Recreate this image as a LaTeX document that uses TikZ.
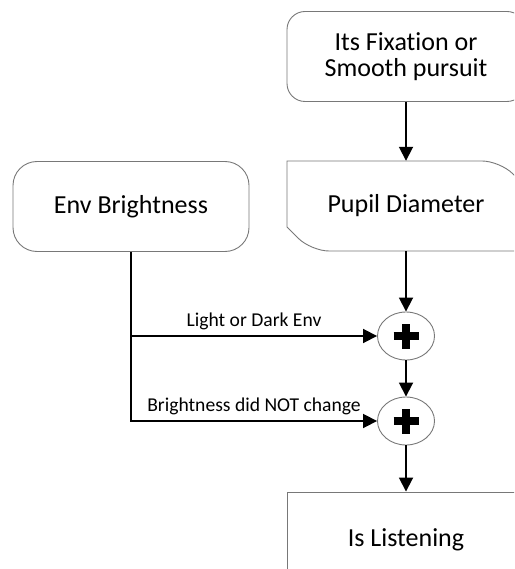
\documentclass[tikz,border=0pt]{standalone}
\usepackage{fontspec}
\setmainfont{Carlito}[Ligatures=NoCommon]
\usetikzlibrary{arrows.meta,shapes.geometric}
\definecolor{boxgray}{RGB}{120,120,120}
\begin{document}
\begin{tikzpicture}[x=1pt,y=-1pt,
  outline/.style={draw=boxgray, line width=0.9pt},
  bigtext/.style={font=\fontsize{26}{26.5}\selectfont, align=center, inner sep=0pt},
  box/.style={outline, bigtext, minimum width=238pt, minimum height=90pt},
  plusnode/.style={outline, ellipse, minimum width=57pt, minimum height=48pt, inner sep=0pt},
  conn/.style={line width=1.8pt, -{Triangle[length=14pt,width=14pt]}},
  lbl/.style={font=\fontsize{19.6}{22}\selectfont, anchor=base, yshift=10pt, inner sep=0pt},
  plusbar/.style={line width=8pt}]
\useasboundingbox (0,0) rectangle (514,569);
\clip (0,0) rectangle (514,569);
\node[box, rounded corners=18pt] (fix) at (406,56.5) {Its Fixation or\\Smooth pursuit};
\node[box, rounded corners=24pt, minimum width=236pt] (env) at (131,206.5) {Env Brightness};
\node[bigtext, minimum width=238pt, minimum height=90pt] (pupil) at (406,206) {Pupil Diameter};
\draw[outline] (287,227) -- (287,161) [rounded corners=18pt] -- (500,161) [sharp corners] -- (525,186) -- (525,251) [rounded corners=18pt] -- (311,251) [sharp corners] -- cycle;
\node[plusnode] (p1) at (406,336) {};
\node[plusnode] (p2) at (406,421) {};
\foreach \p in {p1,p2}{
  \draw[plusbar] ([xshift=-12.5pt]\p.center) -- ([xshift=12.5pt]\p.center);
  \draw[plusbar] ([yshift=-12.5pt]\p.center) -- ([yshift=12.5pt]\p.center);
}
\node[box, minimum height=96pt] (listen) at (406,540) {Is Listening};
\draw[conn] (fix) -- (pupil);
\draw[conn] (pupil) -- (p1);
\draw[conn] (p1) -- (p2);
\draw[conn] (p2) -- (listen);
\draw[conn] (env.south) |- node[lbl, pos=0.75] {Brightness did NOT change} (p2.west);
\draw[conn] (env.south |- p1.west) -- node[lbl] {Light or Dark Env} (p1.west);
\end{tikzpicture}
\end{document}
